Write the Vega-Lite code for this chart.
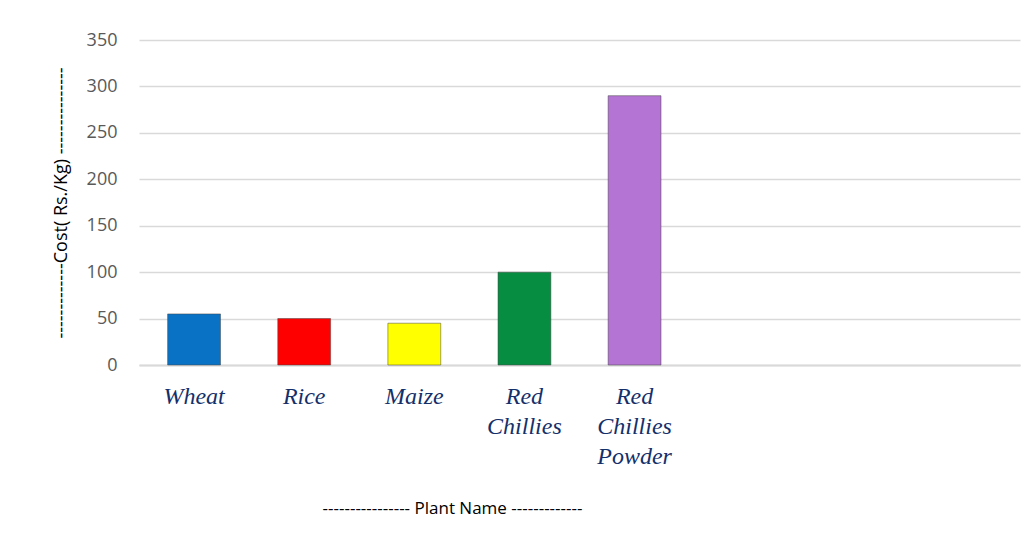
{
  "$schema": "https://vega.github.io/schema/vega-lite/v6.json",
  "width": 881,
  "height": 325,
  "autosize": {"type": "none"},
  "padding": {"left": 139, "top": 40, "right": 15, "bottom": 171},
  "background": "white",
  "config": {"view": {"stroke": null}},
  "data": {
    "values": [
      {"plant": "Wheat", "cost": 55, "colour": "#0a72c4"},
      {"plant": "Rice", "cost": 50, "colour": "#ff0000"},
      {"plant": "Maize", "cost": 45, "colour": "#ffff00"},
      {"plant": "Red Chillies", "cost": 100, "colour": "#078d42"},
      {"plant": "Red Chillies Powder", "cost": 290, "colour": "#b474d3"}
    ]
  },
  "mark": {"type": "bar", "stroke": "#444444", "strokeWidth": 1, "strokeOpacity": 0.5},
  "encoding": {
    "x": {
      "field": "plant",
      "type": "nominal",
      "sort": null,
      "scale": {
        "domain": ["Wheat", "Rice", "Maize", "Red Chillies", "Red Chillies Powder", "_1", "_2", "_3"],
        "paddingInner": 0.52,
        "paddingOuter": 0.26
      },
      "axis": {
        "title": "----------------  Plant Name -------------",
        "titleFont": "Open Sans",
        "titleFontSize": 17,
        "titleFontWeight": "normal",
        "titleColor": "#000000",
        "titleX": 313,
        "titleY": 143,
        "titleAlign": "center",
        "titleBaseline": "middle",
        "labelExpr": "indexof(datum.label, '_') == 0 ? '' : split(datum.label, ' ')",
        "labelAngle": 0,
        "labelFont": "Liberation Serif",
        "labelFontStyle": "italic",
        "labelFontSize": 24,
        "labelColor": "#14306b",
        "labelLineHeight": 30,
        "labelPadding": 19,
        "labelAlign": "center",
        "ticks": false,
        "domain": true,
        "domainColor": "#d9d9d9",
        "domainWidth": 2
      }
    },
    "y": {
      "field": "cost",
      "type": "quantitative",
      "scale": {"domain": [0, 350], "nice": false},
      "axis": {
        "values": [0, 50, 100, 150, 200, 250, 300, 350],
        "title": "-------------Cost( Rs./Kg) ---------------",
        "titleFont": "Open Sans",
        "titleFontSize": 18,
        "titleFontWeight": "normal",
        "titleColor": "#000000",
        "titlePadding": 16,
        "labelFont": "Open Sans",
        "labelFontSize": 18,
        "labelColor": "#595959",
        "labelPadding": 22,
        "ticks": false,
        "domain": false,
        "grid": true,
        "gridColor": "#d9d9d9",
        "gridWidth": 1.5
      }
    },
    "color": {"field": "colour", "type": "nominal", "scale": null, "legend": null}
  }
}
